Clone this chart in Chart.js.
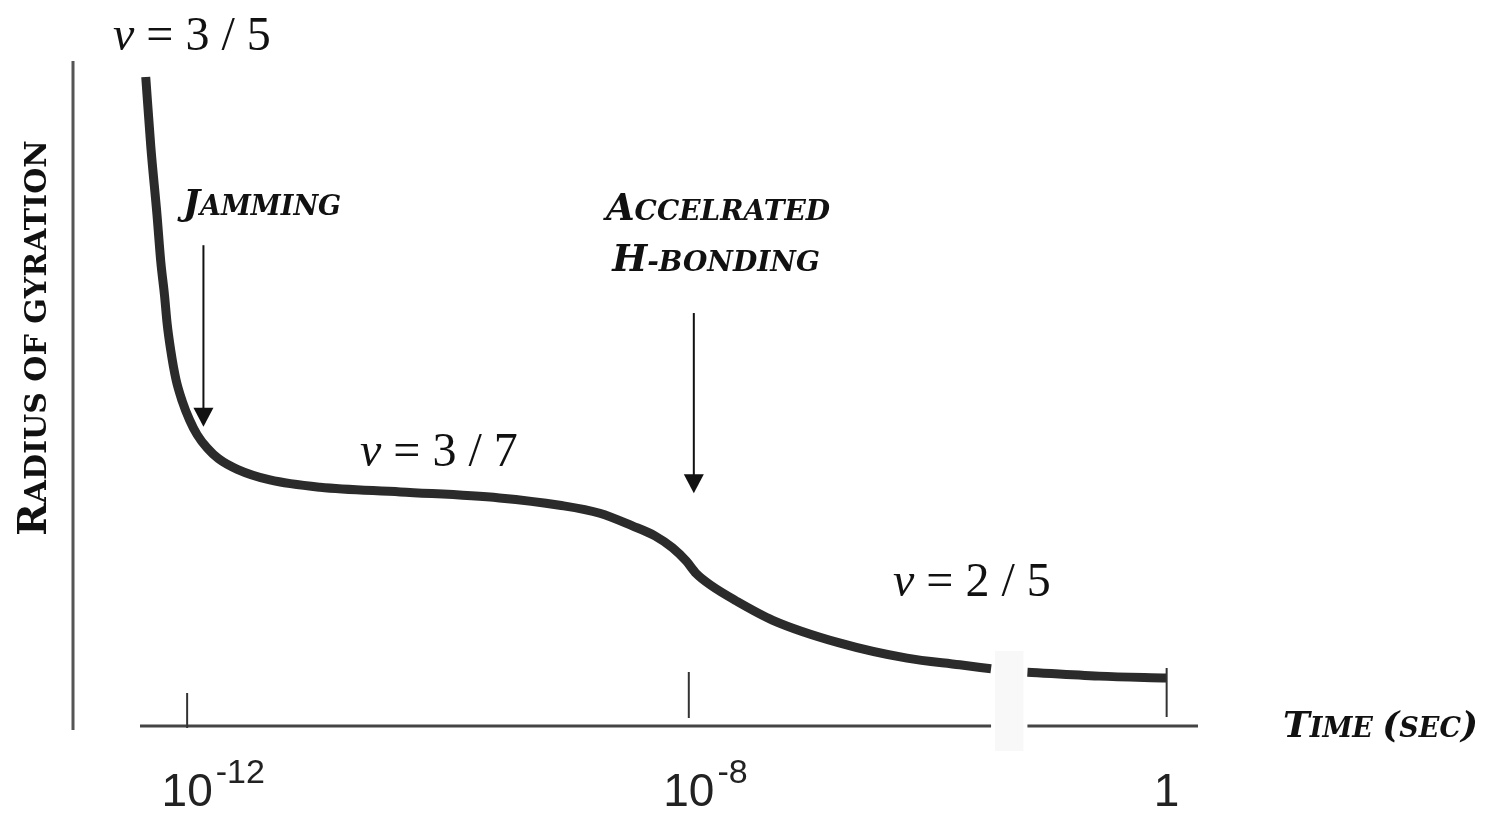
<!DOCTYPE html>
<html>
<head>
<meta charset="utf-8">
<title>Radius of gyration vs time</title>
<script src="https://cdn.jsdelivr.net/npm/chart.js@4.4.1/dist/chart.umd.min.js"></script>
<style>
  html, body { margin: 0; padding: 0; background: #fff; }
  canvas { display: block; }
</style>
</head>
<body>
<canvas id="rgChart" width="1500" height="816"></canvas>
<script>
// log10(time / s). The axis is broken between 1e-8 s and 1 s, so the last
// stretch is compressed; the null radius marks the break in the curve.
const logTime = [-12.33, -12.29, -12.24, -12.21, -12.18, -12.16, -12.13, -12.09, -12.04, -11.98,
                 -11.92, -11.84, -11.75, -11.60, -11.34, -10.94, -10.30, -9.51, -9.03, -8.71,
                 -8.45, -8.27, -8.13, -8.02, -7.94, -7.82, -7.63, -7.33, -6.80, -6.26,
                 -5.84, -5.59, -5.45, -5.30, -4.73, -4.19];
const radius = [97.6, 87.2, 76.8, 69.8, 64.7, 60.6, 56.4, 52.2, 48.9, 46.0,
                43.8, 41.8, 40.2, 38.6, 37.0, 35.9, 35.2, 34.3, 33.2, 32.0,
                30.1, 28.6, 26.8, 24.8, 22.9, 21.1, 18.9, 15.9, 12.5, 10.2,
                9.2, 8.6, null, 8.1, 7.5, 7.2];

const tickLogTime = [-12, -8, -4.19];
const tickBase = ['10', '10', '1'];
const tickExp = ['-12', '-8', ''];

const phaseExponents = ['3 / 5', '3 / 7', '2 / 5'];

// arrows: [logTime, radius at tail, radius at head]
const arrows = [[-11.87, 72.3, 45.0], [-7.96, 62.1, 35.0]];

const breakIdx = radius.indexOf(null);
const breakFrom = logTime[breakIdx - 1];
const breakTo = logTime[breakIdx + 1];

const serifCaps = '"DejaVu Serif", serif';

function capsRuns(text) {
    // capitals and brackets at full size, everything else as small capitals
    const runs = [];
    for (const ch of text) {
        const big = ch !== ch.toLowerCase() || ch === '(' || ch === ')';
        const last = runs[runs.length - 1];
        if (last && last.big === big) last.text += ch.toUpperCase();
        else runs.push({ big: big, text: ch.toUpperCase() });
    }
    return runs;
}

function drawCaps(ctx, text, x, y, align, sizes, slant) {
    const runs = capsRuns(text);
    const fontFor = big => `${slant} bold ${big ? sizes[0] : sizes[1]}px ${serifCaps}`;
    let width = 0;
    runs.forEach(r => {
        ctx.font = fontFor(r.big);
        r.w = ctx.measureText(r.text).width;
        width += r.w;
    });
    let cx = align === 'center' ? x - width / 2 : x;
    ctx.textAlign = 'left';
    ctx.textBaseline = 'alphabetic';
    runs.forEach(r => {
        ctx.font = fontFor(r.big);
        ctx.fillText(r.text, cx, y);
        cx += r.w;
    });
}

function strokeLine(ctx, x0, y0, x1, y1) {
    ctx.beginPath();
    ctx.moveTo(x0, y0);
    ctx.lineTo(x1, y1);
    ctx.stroke();
}

const schematicAxes = {
    id: 'schematicAxes',
    beforeDatasetsDraw(chart) {
        const { ctx, chartArea: area, scales: { x, y } } = chart;
        const b0 = x.getPixelForValue(breakFrom);
        const b1 = x.getPixelForValue(breakTo);
        const y0 = y.getPixelForValue(0);
        ctx.save();
        ctx.fillStyle = '#f8f8f8';
        ctx.fillRect(b0 + 4, y0 - 75, b1 - b0 - 8, 100);

        ctx.lineCap = 'butt';
        ctx.strokeStyle = '#555';
        ctx.lineWidth = 3;
        strokeLine(ctx, area.left, area.top, area.left, area.bottom + 4);

        ctx.strokeStyle = '#444';
        strokeLine(ctx, area.left + 67, y0, b0, y0);
        strokeLine(ctx, b1, y0, area.right, y0);
        ctx.restore();
    },
    afterDatasetsDraw(chart) {
        const { ctx, scales: { x, y } } = chart;
        const y0 = y.getPixelForValue(0);
        const tickSpan = [[-33, 2], [-54, -8], [-58, -9]];
        ctx.save();

        // tick marks and their labels
        ctx.strokeStyle = '#333';
        ctx.lineWidth = 2;
        ctx.fillStyle = '#222';
        tickLogTime.forEach((t, i) => {
            const px = x.getPixelForValue(t);
            strokeLine(ctx, px, y0 + tickSpan[i][0], px, y0 + tickSpan[i][1]);

            ctx.font = '46px "Liberation Sans", Arial, sans-serif';
            ctx.textAlign = 'center';
            ctx.textBaseline = 'alphabetic';
            ctx.fillText(tickBase[i], px, y0 + 80);
            if (tickExp[i]) {
                const w = ctx.measureText(tickBase[i]).width;
                ctx.font = '34px "Liberation Sans", Arial, sans-serif';
                ctx.textAlign = 'left';
                ctx.fillText(tickExp[i], px + w / 2 + 3, y0 + 57);
            }
        });

        // arrows
        ctx.strokeStyle = '#111';
        ctx.fillStyle = '#111';
        arrows.forEach(([t, r0, r1]) => {
            const px = x.getPixelForValue(t);
            const top = y.getPixelForValue(r0);
            const tip = y.getPixelForValue(r1);
            strokeLine(ctx, px, top, px, tip - 16);
            ctx.beginPath();
            ctx.moveTo(px - 10, tip - 19);
            ctx.lineTo(px + 10, tip - 19);
            ctx.lineTo(px, tip);
            ctx.closePath();
            ctx.fill();
        });

        // exponent labels
        const nuPos = [[113, 50], [360, 466], [893, 596]];
        phaseExponents.forEach((frac, i) => {
            const [lx, ly] = nuPos[i];
            ctx.textAlign = 'left';
            ctx.font = 'italic 48px "Liberation Serif", "Times New Roman", serif';
            ctx.fillText('ν', lx, ly);
            const w = ctx.measureText('ν').width;
            ctx.font = '48px "Liberation Serif", "Times New Roman", serif';
            ctx.fillText(' = ' + frac, lx + w, ly);
        });

        // annotations and axis titles
        drawCaps(ctx, 'Jamming', 183, 215, 'left', [36, 27], 'italic');
        drawCaps(ctx, 'Accelrated', 718, 220, 'center', [37, 28], 'italic');
        drawCaps(ctx, 'H-bonding', 716, 271, 'center', [37, 28], 'italic');
        drawCaps(ctx, 'Time (sec)', 1283, 737, 'left', [36, 27], 'italic');

        ctx.translate(46, 338);
        ctx.rotate(-Math.PI / 2);
        drawCaps(ctx, 'Radius of gyration', 0, 0, 'center', [39, 30], 'normal');
        ctx.restore();
    }
};

const ctx = document.getElementById('rgChart').getContext('2d');
new Chart(ctx, {
    type: 'line',
    data: {
        datasets: [{
            data: logTime.map((t, i) => ({ x: t, y: radius[i] })),
            borderColor: '#2b2b2b',
            borderWidth: 9,
            borderCapStyle: 'butt',
            borderJoinStyle: 'round',
            pointRadius: 0,
            cubicInterpolationMode: 'monotone',
            spanGaps: false,
            clip: 10
        }]
    },
    options: {
        responsive: false,
        devicePixelRatio: 1,
        animation: false,
        layout: { padding: { left: 73, top: 61, right: 302, bottom: 90 } },
        scales: {
            x: { type: 'linear', min: -12.91, max: -3.94, display: false },
            y: { min: 0, max: 100, display: false }
        },
        plugins: {
            legend: { display: false },
            tooltip: { enabled: false }
        }
    },
    plugins: [schematicAxes]
});
</script>
</body>
</html>
